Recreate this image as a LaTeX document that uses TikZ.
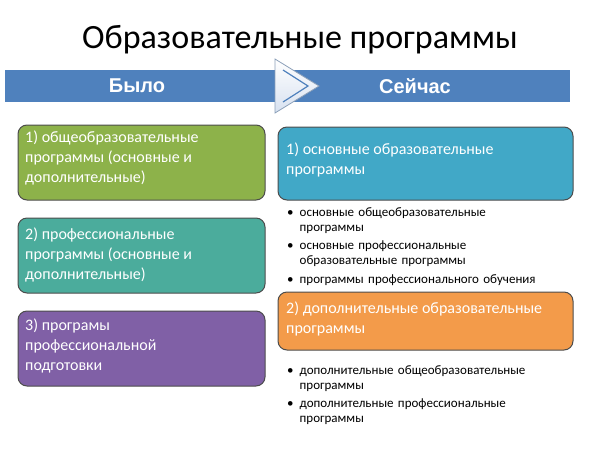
\documentclass[tikz,border=0pt]{standalone}
\usepackage{fontspec}
\setmainfont{Carlito}
\newfontfamily\arialb{Liberation Sans}
\begin{document}
\begin{tikzpicture}[x=1pt,y=-1pt,
 box/.style={rounded corners=9pt,draw=black!70,line width=1pt},
 bt/.style={anchor=north west,align=left,text=white,font=\fontsize{16}{20}\selectfont,inner sep=0pt},
 bul/.style={anchor=north west,align=left,font=\fontsize{13}{15}\selectfont,inner sep=0pt,text width=290pt}]
\useasboundingbox (0,0) rectangle (600,448);
\node (title) at (300,40) {\fontsize{34}{36}\selectfont Образовательные программы};
\fill[fill={rgb,255:red,79;green,129;blue,189}] (5,70) rectangle (570,102);
\shade[top color=white,bottom color={rgb,255:red,215;green,225;blue,240},draw={rgb,255:red,140;green,160;blue,185},line width=0.8pt] (275,59) -- (319,86) -- (275,113) -- cycle;
\draw[draw={rgb,255:red,79;green,129;blue,189},line width=1.2pt] (283,70) -- (308,86) -- (283,102);
\node[text=white,font=\arialb\bfseries\fontsize{20}{22}\selectfont] (was) at (137,86) {Было};
\node[text=white,font=\arialb\bfseries\fontsize{20}{22}\selectfont] (now) at (415,86) {Сейчас};
\draw[box,fill={rgb,255:red,141;green,178;blue,74}] (18,125) rectangle (265,200);
\node[bt] (g) at (25,131) {1) общеобразовательные\\программы (основные и\\дополнительные)};
\draw[box,fill={rgb,255:red,75;green,172;blue,156}] (18,218) rectangle (265,293);
\node[bt] (t) at (25,228) {2) профессиональные\\программы (основные и\\дополнительные)};
\draw[box,fill={rgb,255:red,128;green,96;blue,166}] (18,311) rectangle (265,386);
\node[bt] (p) at (25,319) {3) програмы\\профессиональной\\подготовки};
\draw[box,fill={rgb,255:red,65;green,168;blue,199}] (278,127) rectangle (573,200);
\node[bt] (b) at (286,143) {1) основные образовательные\\программы};
\draw[box,fill={rgb,255:red,243;green,155;blue,74}] (278,292) rectangle (573,350);
\node[bt] (o) at (286,302) {2) дополнительные образовательные\\программы};
\node[bul] (l1) at (287,207) {\textbullet\hspace{6pt}\parbox[t]{270pt}{основные общеобразовательные\\программы}};
\node[bul] (l2) at (287,241) {\textbullet\hspace{6pt}\parbox[t]{270pt}{основные профессиональные\\образовательные программы}};
\node[bul] (l3) at (287,274) {\textbullet\hspace{6pt}программы профессионального обучения};
\node[bul] (l4) at (287,365) {\textbullet\hspace{6pt}\parbox[t]{270pt}{дополнительные общеобразовательные\\программы}};
\node[bul] (l5) at (287,399) {\textbullet\hspace{6pt}\parbox[t]{270pt}{дополнительные профессиональные\\программы}};
\end{tikzpicture}
\end{document}
